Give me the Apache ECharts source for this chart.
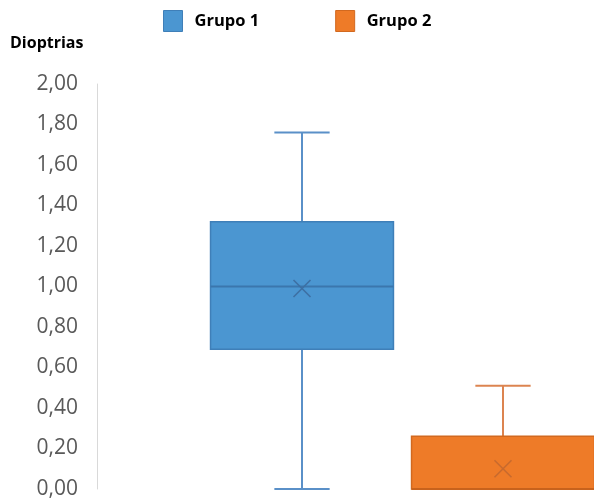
<!DOCTYPE html>
<html>
<head>
<meta charset="utf-8">
<script src="https://cdn.jsdelivr.net/npm/echarts@6/dist/echarts.min.js"></script>
<style>
html,body{margin:0;padding:0;background:#fff;}
#chart{width:594px;height:503px;}
</style>
</head>
<body>
<div id="chart"></div>
<script>
// ---- data ----
const categories = ['Grupo 1', 'Grupo 2'];
const minVals    = [0.00, 0.00];
const q1Vals     = [0.69, 0.00];
const medianVals = [1.00, 0.00];
const q3Vals     = [1.32, 0.26];
const maxVals    = [1.76, 0.51];
const meanVals   = [0.99, 0.10];
const yMin = 0, yMax = 2, yStep = 0.2;
const yAxisTitle = 'Dioptrias';

// ---- styles ----
const palette = [
  {fill: '#4b96d1', border: '#3f7fb8', whisker: '#5a90c8', median: '#3b76ad', mean: '#3d70a3'},
  {fill: '#ee7b28', border: '#d2691f', whisker: '#dc8450', median: '#c8621c', mean: '#c86a2e'}
];

const chart = echarts.init(document.getElementById('chart'));

function makeRender(style) {
  return function (params, api) {
    const x = api.value(0);
    const pMin = api.coord([x, api.value(1)]);
    const pQ1 = api.coord([x, api.value(2)]);
    const pMed = api.coord([x, api.value(3)]);
    const pQ3 = api.coord([x, api.value(4)]);
    const pMax = api.coord([x, api.value(5)]);
    const pMean = api.coord([x, api.value(6)]);
    const band = api.size([1, 0])[0];
    const bw = band * 0.91;
    const cw = band * 0.275;
    const cx = pMin[0];
    const wl = {stroke: style.whisker, lineWidth: 2};
    const m = 8.5;
    return {
      type: 'group',
      children: [
        {type: 'line', shape: {x1: cx, y1: pMax[1], x2: cx, y2: pQ3[1]}, style: wl},
        {type: 'line', shape: {x1: cx, y1: pQ1[1], x2: cx, y2: pMin[1]}, style: wl},
        {type: 'line', shape: {x1: cx - cw / 2, y1: pMax[1], x2: cx + cw / 2, y2: pMax[1]}, style: wl},
        {type: 'line', shape: {x1: cx - cw / 2, y1: pMin[1], x2: cx + cw / 2, y2: pMin[1]}, style: wl},
        {type: 'rect', shape: {x: cx - bw / 2, y: pQ3[1], width: bw, height: pQ1[1] - pQ3[1]},
          style: {fill: style.fill, stroke: style.border, lineWidth: 1.5}},
        {type: 'line', shape: {x1: cx - bw / 2, y1: pMed[1], x2: cx + bw / 2, y2: pMed[1]},
          style: {stroke: style.median, lineWidth: 2}},
        {type: 'line', shape: {x1: cx - m, y1: pMean[1] - m, x2: cx + m, y2: pMean[1] + m},
          style: {stroke: style.mean, lineWidth: 1.6}},
        {type: 'line', shape: {x1: cx - m, y1: pMean[1] + m, x2: cx + m, y2: pMean[1] - m},
          style: {stroke: style.mean, lineWidth: 1.6}}
      ]
    };
  };
}

const series = categories.map(function (name, i) {
  return {
    name: name,
    type: 'custom',
    clip: false,
    itemStyle: {color: palette[i].fill},
    encode: {x: 0, y: [1, 2, 3, 4, 5]},
    data: [[i + 1, minVals[i], q1Vals[i], medianVals[i], q3Vals[i], maxVals[i], meanVals[i]]],
    renderItem: makeRender(palette[i])
  };
});

chart.setOption({
  animation: false,
  backgroundColor: '#ffffff',
  title: {
    text: yAxisTitle,
    left: 10, top: 35, padding: 0,
    textStyle: {fontFamily: 'Open Sans', fontWeight: 'bold', fontSize: 16, color: '#000000'}
  },
  legend: {
    left: 163, top: 10, padding: 0,
    itemWidth: 19, itemHeight: 21, itemGap: 76,
    icon: 'rect',
    data: categories.map(function (name, i) {
      return {name: name, itemStyle: {color: palette[i].fill, borderColor: palette[i].border, borderWidth: 1}};
    }),
    textStyle: {fontFamily: 'Open Sans', fontWeight: 'bold', fontSize: 16.5, color: '#000000', padding: [0, 0, 0, 7]}
  },
  grid: {left: 0.5, width: 603, top: 84, bottom: 14, outerBoundsMode: 'none', containLabel: false},
  xAxis: {
    type: 'category',
    data: [''].concat(categories),
    show: false
  },
  yAxis: {
    type: 'value',
    min: yMin, max: yMax, interval: yStep,
    offset: -96.5,
    axisLine: {show: true, lineStyle: {color: '#d9d9d9', width: 1}},
    axisTick: {show: false},
    splitLine: {show: false},
    axisLabel: {
      margin: 19,
      fontFamily: 'Open Sans', fontSize: 21, color: '#595959',
      formatter: function (v) { return v.toFixed(2).replace('.', ','); }
    }
  },
  series: series
});
</script>
</body>
</html>
